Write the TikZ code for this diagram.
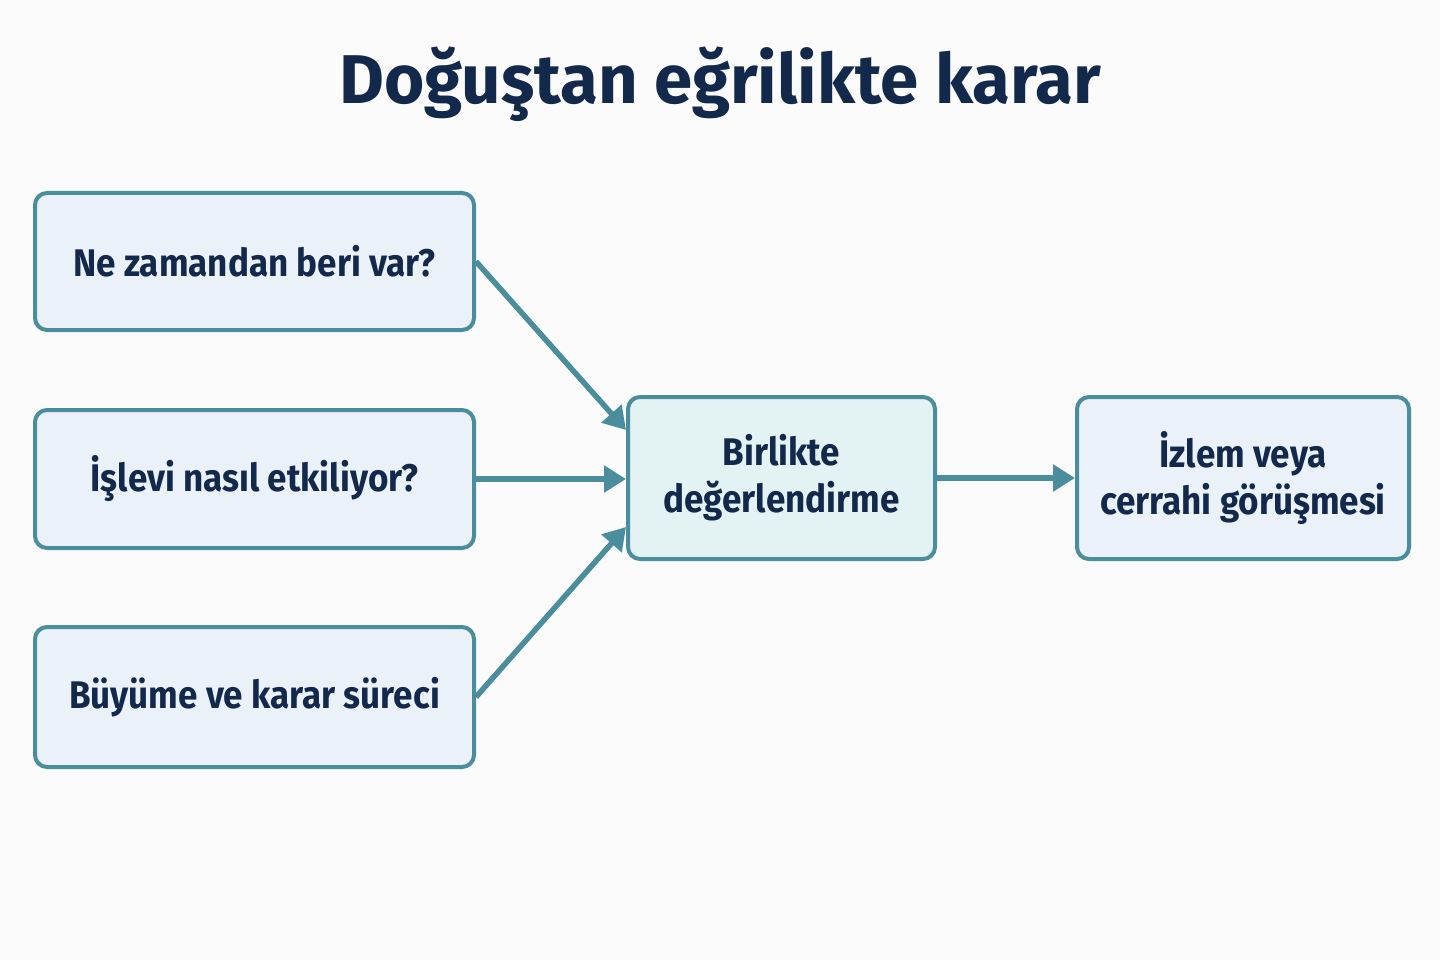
\documentclass[tikz,border=0pt]{standalone}
\usepackage{fontspec}
\setmainfont{Fira Sans}
\newfontfamily\boxfont[FakeStretch=0.91]{Fira Sans}
\usetikzlibrary{arrows.meta}
\definecolor{edgec}{HTML}{4A8D9C}
\definecolor{fillb}{HTML}{EAF1F9}
\definecolor{fillc}{HTML}{E3F2F2}
\definecolor{txt}{HTML}{13294B}
\definecolor{bg}{HTML}{FBFBFB}
\tikzset{
  box/.style={draw=edgec, line width=4pt, fill=fillb, rounded corners=12pt, anchor=center, align=center, text=txt, font=\boxfont\bfseries\fontsize{38.5}{47}\selectfont, inner sep=0pt},
  conn/.style={draw=edgec, line width=5.5pt, -{Triangle[length=22pt,width=26pt]}}
}
\begin{document}
\begin{tikzpicture}[x=1pt,y=-1pt]
\fill[bg] (0,0) rectangle (1440,960);
\useasboundingbox (0,0) rectangle (1440,960);
\node[text=txt, font=\bfseries\fontsize{69}{80}\selectfont] (title) at (720,84) {Doğuştan eğrilikte karar};
\node[box, minimum width=439pt, minimum height=137pt] (a) at (254.5,261.5) {Ne zamandan beri var?};
\node[box, minimum width=439pt, minimum height=138pt] (b) at (254.5,479) {İşlevi nasıl etkiliyor?};
\node[box, minimum width=439pt, minimum height=140pt] (c) at (254.5,697) {Büyüme ve karar süreci};
\node[box, fill=fillc, minimum width=307pt, minimum height=162pt] (m) at (781.5,478) {\raisebox{-3pt}{}Birlikte\\değerlendirme};
\node[box, minimum width=332pt, minimum height=162pt] (r) at (1243,478) {İzlem veya\\cerrahi görüşmesi};
\draw[conn] (a.east) -- ([yshift=48pt]m.west);
\draw[conn] (b.east) -- (b.east -| m.west);
\draw[conn] (c.east) -- ([yshift=-49pt]m.west);
\draw[conn] (m.east) -- (r.west);
\end{tikzpicture}
\end{document}
